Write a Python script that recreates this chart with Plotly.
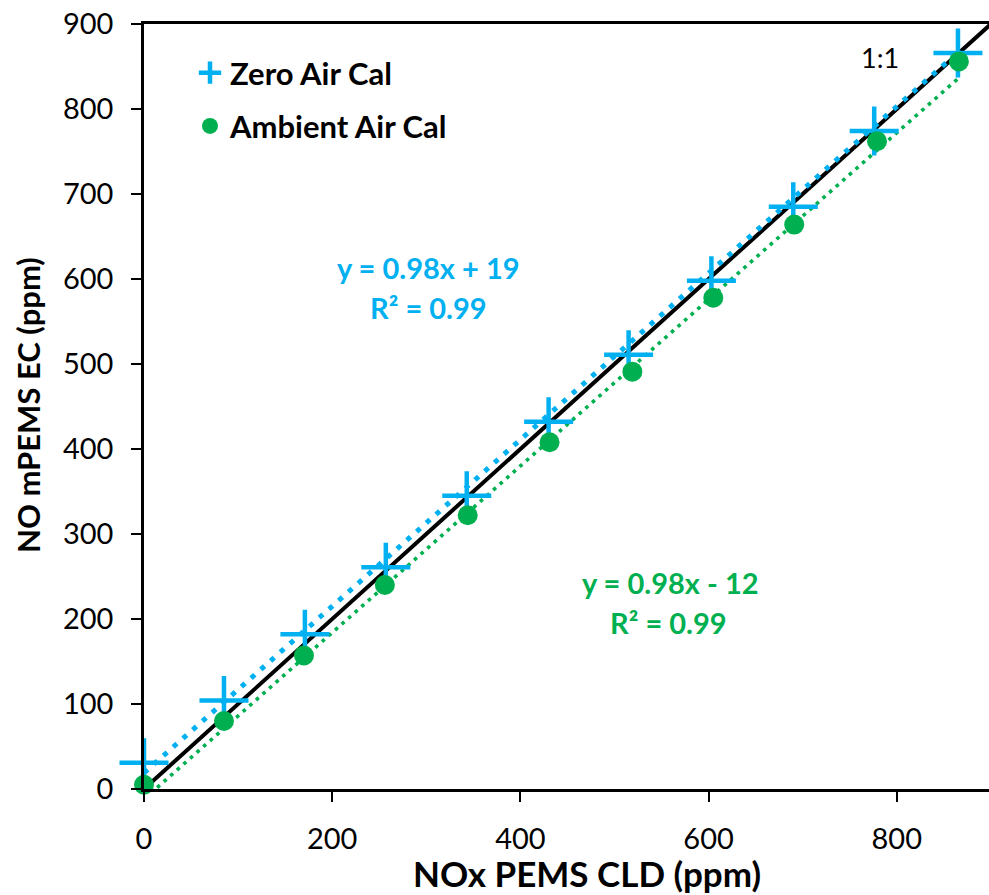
import plotly.graph_objects as go

# Calibration points: NOx PEMS CLD reading vs NO mPEMS EC reading (ppm)
zero_x = [0, 85, 171, 257, 343, 430, 515, 603, 690, 776, 865]
zero_y = [31, 104, 182, 261, 345, 432, 511, 598, 685, 774, 866]
amb_x = [0, 85, 170, 256, 344, 431, 519, 605, 691, 779, 866]
amb_y = [5, 80, 157, 240, 322, 408, 491, 578, 664, 762, 856]

# Linear fits (slope, intercept) reported for each calibration
zero_fit = (0.98, 19)
amb_fit = (0.98, -12)
fit_r2 = 0.99

x_ticks = [0, 200, 400, 600, 800]
y_ticks = [0, 100, 200, 300, 400, 500, 600, 700, 800, 900]

BLUE = "#00B0F0"
GREEN = "#00B050"
FONT = "Lato"
W, H = 989, 895
MARGIN = dict(l=144, r=0, t=24, b=106)


def fit_line(xs, fit):
    m, b = fit
    x0, x1 = min(xs), max(xs)
    return [x0, x1], [m * x0 + b, m * x1 + b]


def eq_text(fit):
    m, b = fit
    sign = "+" if b >= 0 else "-"
    return f"y = {m:.2f}x {sign} {abs(b):g}"


fig = go.Figure()

# 1:1 reference line
fig.add_trace(go.Scatter(x=[0, 900], y=[0, 900], mode="lines",
                         line=dict(color="black", width=4),
                         showlegend=False, hoverinfo="skip"))

# Trendlines (round-ish dotted)
tx, ty = fit_line(zero_x, zero_fit)
fig.add_trace(go.Scatter(x=tx, y=ty, mode="lines",
                         line=dict(color=BLUE, width=5, dash="5px,8px"),
                         showlegend=False, hoverinfo="skip"))
tx, ty = fit_line(amb_x, amb_fit)
fig.add_trace(go.Scatter(x=tx, y=ty, mode="lines",
                         line=dict(color=GREEN, width=3.6, dash="3.6px,5.2px"),
                         showlegend=False, hoverinfo="skip"))

# Measured points
fig.add_trace(go.Scatter(x=zero_x, y=zero_y, mode="markers", name="Zero Air Cal",
                         legendgroup="a",
                         marker=dict(symbol="cross-thin", size=35,
                                     line=dict(color=BLUE, width=4.5)),
                         cliponaxis=False))
fig.add_trace(go.Scatter(x=amb_x, y=amb_y, mode="markers", name="Ambient Air Cal",
                         legendgroup="b",
                         marker=dict(symbol="circle", size=20, color=GREEN),
                         cliponaxis=False))

ann_font = dict(family=FONT, size=29)
annotations = [
    dict(x=302, y=614, text=f"<b>{eq_text(zero_fit)}</b>", font=dict(ann_font, color=BLUE)),
    dict(x=302, y=566, text=f"<b>R² = {fit_r2:.2f}</b>", font=dict(ann_font, color=BLUE)),
    dict(x=559, y=243, text=f"<b>{eq_text(amb_fit)}</b>", font=dict(ann_font, color=GREEN)),
    dict(x=557, y=196, text=f"<b>R² = {fit_r2:.2f}</b>", font=dict(ann_font, color=GREEN)),
    dict(x=782, y=861, text="1:1", font=dict(family=FONT, size=27, color="black")),
]
for a in annotations:
    a.update(xref="x", yref="y", showarrow=False)

# Axis titles, positioned in pixels and converted to paper coordinates
plot_l, plot_r = MARGIN["l"], W - MARGIN["r"]
plot_t, plot_b = MARGIN["t"], H - MARGIN["b"]


def paper_xy(px, py):
    return (px - plot_l) / (plot_r - plot_l), (plot_b - py) / (plot_b - plot_t)


tx_p, ty_p = paper_xy(587, 873)
annotations.append(dict(x=tx_p, y=ty_p, xref="paper", yref="paper",
                        text="<b>NOx PEMS CLD (ppm)</b>", showarrow=False,
                        xanchor="center", yanchor="middle",
                        font=dict(family=FONT, size=35, color="black")))
tx_p, ty_p = paper_xy(28, 405)
annotations.append(dict(x=tx_p, y=ty_p, xref="paper", yref="paper",
                        text="<b>NO mPEMS EC (ppm)</b>", textangle=-90, showarrow=False,
                        xanchor="center", yanchor="middle",
                        font=dict(family=FONT, size=31, color="black")))

leg_x, leg_y = paper_xy(190, 46)

fig.update_layout(
    width=W, height=H,
    margin=MARGIN,
    paper_bgcolor="white", plot_bgcolor="white",
    font=dict(family=FONT, color="black"),
    showlegend=True,
    legend=dict(x=leg_x, y=leg_y, xanchor="left", yanchor="top",
                font=dict(family=FONT, size=31, color="black", weight="bold"),
                traceorder="grouped", tracegroupgap=10,
                bgcolor="rgba(0,0,0,0)"),
    xaxis=dict(range=[0, 898], tickvals=x_ticks, showgrid=False, zeroline=False,
               showline=True, linecolor="black", linewidth=2.5, mirror=True,
               ticks="outside", ticklen=10, tickwidth=2, tickcolor="black",
               tickfont=dict(family=FONT, size=29, color="black"), ticklabelstandoff=12),
    yaxis=dict(range=[0, 900], tickvals=y_ticks, showgrid=False, zeroline=False,
               showline=True, linecolor="black", linewidth=2.5,
               ticks="outside", ticklen=10, tickwidth=2, tickcolor="black",
               tickfont=dict(family=FONT, size=29, color="black"), ticklabelstandoff=12),
    annotations=annotations,
)

fig.write_html("out.html")
